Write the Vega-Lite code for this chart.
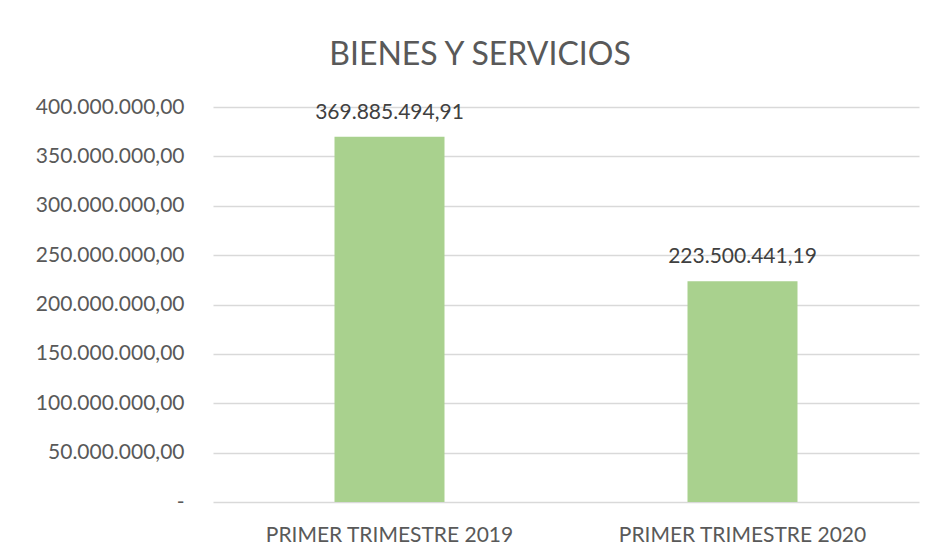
{
  "$schema": "https://vega.github.io/schema/vega-lite/v6.json",
  "autosize": {"type": "none"},
  "width": 706,
  "height": 395,
  "padding": {"left": 213, "top": 107, "right": 14, "bottom": 52},
  "background": "white",
  "config": {
    "locale": {"number": {"decimal": ",", "thousands": ".", "grouping": [3], "currency": ["", ""]}},
    "view": {"stroke": null},
    "font": "Lato"
  },
  "title": {"text": "BIENES Y SERVICIOS", "fontSize": 32, "fontWeight": "normal", "color": "#595959", "font": "Lato", "baseline": "alphabetic", "frame": "group", "offset": -1, "dx": -86},
  "data": {"values": [
    {"periodo": "PRIMER TRIMESTRE 2019", "valor": 369885494.91},
    {"periodo": "PRIMER TRIMESTRE 2020", "valor": 223500441.19}
  ]},
  "layer": [
    {
      "mark": {"type": "bar", "color": "#A9D18E", "size": 110},
      "encoding": {
        "x": {"field": "periodo", "type": "nominal", "sort": null, "scale": {"paddingInner": 0, "paddingOuter": 0},
          "axis": {"title": null, "labelAngle": 0, "labelFontSize": 21, "labelColor": "#595959", "labelPadding": 22, "labelLimit": 0, "labelOverlap": false, "ticks": false, "domain": false, "grid": false}},
        "y": {"field": "valor", "type": "quantitative", "scale": {"domain": [0, 400000000]},
          "axis": {"title": null, "values": [0, 50000000, 100000000, 150000000, 200000000, 250000000, 300000000, 350000000, 400000000], "format": ",.2f", "labelExpr": "datum.value === 0 ? '-' : datum.label", "labelFontSize": 21, "labelColor": "#595959", "labelPadding": 29, "labelOverlap": false, "labelLimit": 0, "ticks": false, "domain": false, "gridColor": "#D9D9D9", "gridWidth": 1.3}}
      }
    },
    {
      "mark": {"type": "text", "fontSize": 21, "color": "#404040", "baseline": "alphabetic", "dy": -18},
      "encoding": {
        "x": {"field": "periodo", "type": "nominal", "sort": null},
        "y": {"field": "valor", "type": "quantitative"},
        "text": {"field": "valor", "type": "quantitative", "format": ",.2f"}
      }
    }
  ]
}
